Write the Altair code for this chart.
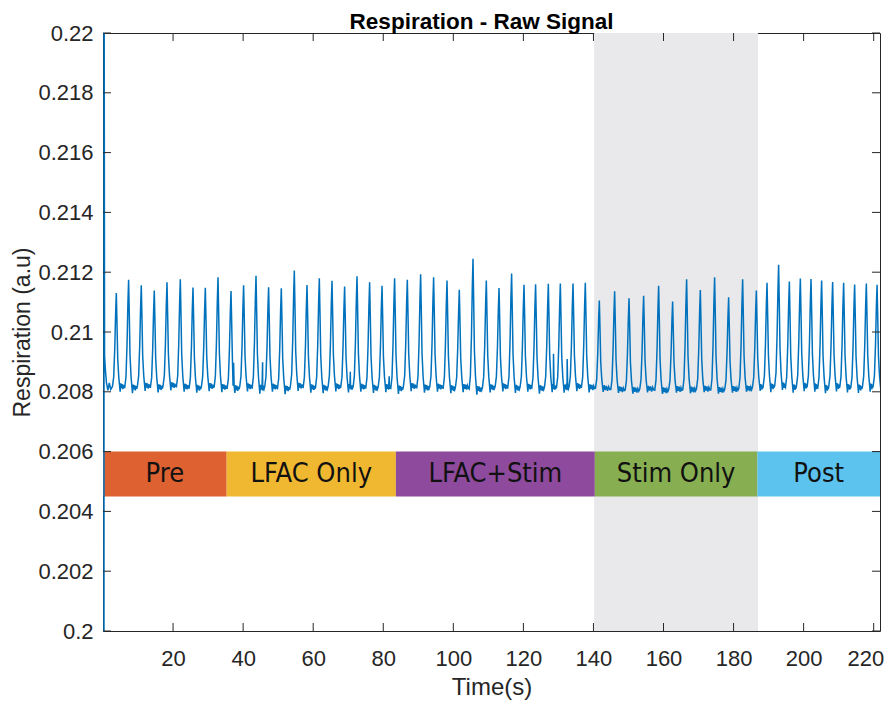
import altair as alt
import pandas as pd

# ---------------- data ----------------
# breath peaks: time (s) and peak value (a.u.)
peak_t = [3.80, 7.31, 10.93, 14.64, 18.27, 22.07, 25.69, 29.21, 32.83, 36.54,
          40.14, 43.68, 47.27, 50.90, 54.61, 58.24, 61.75, 65.37, 68.97, 72.51,
          76.11, 79.65, 83.24, 86.87, 90.67, 94.38, 98.20, 101.71, 105.62, 109.42,
          113.05, 116.64, 120.18, 123.49, 127.12, 130.55, 134.17, 137.68, 141.68, 146.05,
          150.16, 154.33, 158.61, 162.60, 166.60, 170.51, 174.59, 178.59, 182.59, 186.50,
          189.55, 192.86, 195.92, 199.06, 202.11, 205.14, 208.28, 211.42, 214.56, 217.90,
          220.96]
peak_v = [0.21130, 0.21175, 0.21156, 0.21139, 0.21166, 0.21176, 0.21149, 0.21148, 0.21183, 0.21137,
          0.21156, 0.21188, 0.21150, 0.21146, 0.21206, 0.21157, 0.21180, 0.21171, 0.21152, 0.21186,
          0.21166, 0.21155, 0.21180, 0.21175, 0.21193, 0.21183, 0.21172, 0.21141, 0.21245, 0.21172,
          0.21147, 0.21196, 0.21158, 0.21160, 0.21161, 0.21162, 0.21162, 0.21165, 0.21105, 0.21136,
          0.21113, 0.21121, 0.21155, 0.21102, 0.21176, 0.21140, 0.21183, 0.21116, 0.21176, 0.21139,
          0.21165, 0.21225, 0.21169, 0.21179, 0.21177, 0.21172, 0.21167, 0.21165, 0.21159, 0.21162,
          0.21158]
# lowest dip after each breath
trough_v = [0.20800, 0.20795, 0.20803, 0.20798, 0.20805, 0.20800, 0.20797, 0.20802, 0.20799, 0.20796,
            0.20801, 0.20794, 0.20800, 0.20792, 0.20803, 0.20797, 0.20795, 0.20801, 0.20798, 0.20800,
            0.20796, 0.20799, 0.20793, 0.20802, 0.20797, 0.20800, 0.20795, 0.20799, 0.20790, 0.20798,
            0.20801, 0.20796, 0.20800, 0.20794, 0.20799, 0.20797, 0.20802, 0.20798, 0.20800, 0.20796,
            0.20794, 0.20798, 0.20793, 0.20797, 0.20795, 0.20799, 0.20794, 0.20797, 0.20800, 0.20803,
            0.20799, 0.20806, 0.20797, 0.20802, 0.20800, 0.20795, 0.20801, 0.20798, 0.20796, 0.20800,
            0.20802]
# resting level between breaths
base_v = [0.20818, 0.20814, 0.20820, 0.20815, 0.20822, 0.20817, 0.20813, 0.20819, 0.20816, 0.20812,
          0.20818, 0.20813, 0.20817, 0.20811, 0.20820, 0.20815, 0.20813, 0.20818, 0.20816, 0.20817,
          0.20813, 0.20816, 0.20811, 0.20819, 0.20814, 0.20817, 0.20812, 0.20816, 0.20809, 0.20815,
          0.20818, 0.20813, 0.20817, 0.20812, 0.20816, 0.20814, 0.20819, 0.20815, 0.20812, 0.20808,
          0.20806, 0.20810, 0.20805, 0.20809, 0.20807, 0.20810, 0.20806, 0.20809, 0.20811, 0.20816,
          0.20818, 0.20822, 0.20815, 0.20820, 0.20818, 0.20813, 0.20819, 0.20816, 0.20814, 0.20818,
          0.20820]
# baseline ripple seen between breaths (offsets from the resting level)
ripple = [0.00010, -0.00006, 0.00008, -0.00009, 0.00005, -0.00004]
# small secondary bumps on the baseline
minor_t = [37.28, 45.56, 70.60, 81.70, 128.60, 132.50]
minor_v = [0.20897, 0.20899, 0.20867, 0.20852, 0.20927, 0.20910]

# phase bars
phase_names = ["Pre", "LFAC Only", "LFAC+Stim", "Stim Only", "Post"]
phase_start = [0.0, 35.3, 83.6, 140.4, 186.8]
phase_end = [35.3, 83.6, 140.4, 186.8, 221.8]
phase_colors = ["#DE6131", "#F0B830", "#8E4A9C", "#87AE50", "#5BC3EE"]
phase_top = 0.2060
phase_bottom = 0.2045

# shaded stimulation window
shade_start = [140.2]
shade_end = [187.0]

x_ticks = [20, 40, 60, 80, 100, 120, 140, 160, 180, 200, 220]
y_ticks = [0.2, 0.202, 0.204, 0.206, 0.208, 0.21, 0.212, 0.214, 0.216, 0.218, 0.22]

title_text = ["Respiration - Raw Signal"]

# ---------------- build the trace from the read values ----------------
shape = [(-1.1, 0.0), (-0.75, 0.1), (-0.45, 0.4), (-0.2, 0.78), (0.0, 1.0),
         (0.18, 0.7), (0.4, 0.3), (0.7, 0.1)]
pts = [(0.28, 0.195), (0.30, 0.225), (0.45, 0.2092), (0.7, 0.2087), (1.0, 0.2083),
       (1.4, 0.20805), (1.8, 0.2083), (2.2, 0.20808)]
n = len(peak_t)
for i in range(n):
    tp, pv, b = peak_t[i], peak_v[i], base_v[i]
    for dt, f in shape:
        pts.append((tp + dt, b + f * (pv - b)))
    pts.append((tp + 1.1, trough_v[i]))
    if i + 1 < n:
        g0, g1 = tp + 1.1, peak_t[i + 1] - 1.1
        k = len(ripple)
        for j, r in enumerate(ripple):
            pts.append((g0 + (g1 - g0) * (j + 1) / (k + 1), b + r))
for t, v in zip(minor_t, minor_v):
    pts += [(t - 0.15, 0.2082), (t, v), (t + 0.15, 0.2082)]
pts.sort(key=lambda p: p[0])
trace = pd.DataFrame(pts, columns=["t", "v"])

phases = pd.DataFrame({"name": phase_names, "start": phase_start, "end": phase_end,
                       "top": [phase_top] * 5, "bottom": [phase_bottom] * 5,
                       "mid": [(a + b) / 2 for a, b in zip(phase_start, phase_end)],
                       "ymid": [(phase_top + phase_bottom) / 2] * 5})
shade = pd.DataFrame({"start": shade_start, "end": shade_end})
xt = pd.DataFrame({"x": x_ticks})
yt = pd.DataFrame({"y": y_ticks})
ttl = pd.DataFrame({"text": title_text})

W, H = 777, 598
AX = "#262626"
FONT = "Liberation Sans, Arial, Helvetica, sans-serif"
xs = alt.Scale(domain=[0, 221.8], nice=False, zero=False)
ys = alt.Scale(domain=[0.2, 0.22], nice=False, zero=False)

x_axis = alt.Axis(values=x_ticks, title="Time(s)", labelFontSize=22, titleFontSize=24,
                  labelFont=FONT, titleFont=FONT, labelColor=AX, titleColor=AX,
                  ticks=False, domain=False, grid=False, labelPadding=17,
                  labelFlush=10, labelFlushOffset=10,
                  titleFontWeight="normal", titleY=63, titleBaseline="alphabetic")
y_axis = alt.Axis(values=y_ticks, format="~g", title="Respiration (a.u)", labelFontSize=22,
                  titleFontSize=23, labelFont=FONT, titleFont=FONT, labelColor=AX, titleColor=AX,
                  ticks=False, domain=False, grid=False, labelPadding=10, labelFlush=False,
                  titleFontWeight="normal", titleAngle=270, titleX=-74, titleY=H / 2,
                  titleAlign="center", titleBaseline="alphabetic")

line = alt.Chart(trace).mark_line(color="#0072BD", strokeWidth=1.5, clip=True).encode(
    x=alt.X("t:Q", scale=xs, axis=x_axis), y=alt.Y("v:Q", scale=ys, axis=y_axis), order="t:Q")

gray = alt.Chart(shade).mark_rect(color="#E9E9EC").encode(
    x=alt.X("start:Q", scale=xs), x2="end:Q",
    y=alt.value(0), y2=alt.value(H))

bars = alt.Chart(phases).mark_rect().encode(
    x=alt.X("start:Q", scale=xs), x2="end:Q",
    y=alt.Y("top:Q", scale=ys), y2="bottom:Q",
    color=alt.Color("name:N", scale=alt.Scale(domain=phase_names, range=phase_colors), legend=None))

labels = alt.Chart(phases).mark_text(
    font="DejaVu Sans Condensed, Liberation Sans Narrow, DejaVu Sans, sans-serif",
    fontSize=27, color="#111111", baseline="middle", align="center").encode(
    x=alt.X("mid:Q", scale=xs), y=alt.Y("ymid:Q", scale=ys), text="name:N")

tick_style = dict(color=AX, strokeWidth=1)
xt_bot = alt.Chart(xt).mark_rule(**tick_style).encode(
    x=alt.X("x:Q", scale=xs), y=alt.value(H), y2=alt.value(H - 8))
xt_top = alt.Chart(xt).mark_rule(**tick_style).encode(
    x=alt.X("x:Q", scale=xs), y=alt.value(0), y2=alt.value(8))
yt_left = alt.Chart(yt).mark_rule(**tick_style).encode(
    y=alt.Y("y:Q", scale=ys), x=alt.value(0), x2=alt.value(8))
yt_right = alt.Chart(yt).mark_rule(**tick_style).encode(
    y=alt.Y("y:Q", scale=ys), x=alt.value(W), x2=alt.value(W - 8))

title = alt.Chart(ttl).mark_text(
    font=FONT, fontSize=22.5, fontWeight="bold", color="#000000",
    align="center", baseline="alphabetic").encode(
    text="text:N", x=alt.value(W / 2 - 10), y=alt.value(-4.5))

chart = alt.layer(gray, bars, labels, line, xt_bot, xt_top, yt_left, yt_right, title).properties(
    width=W, height=H,
    autosize=alt.AutoSizeParams(type="none"),
    padding={"left": 95, "top": 25, "right": 5, "bottom": 69},
).configure_view(stroke=AX, strokeWidth=1)

chart.save("out.html", embed_options={"renderer": "svg", "actions": False})
